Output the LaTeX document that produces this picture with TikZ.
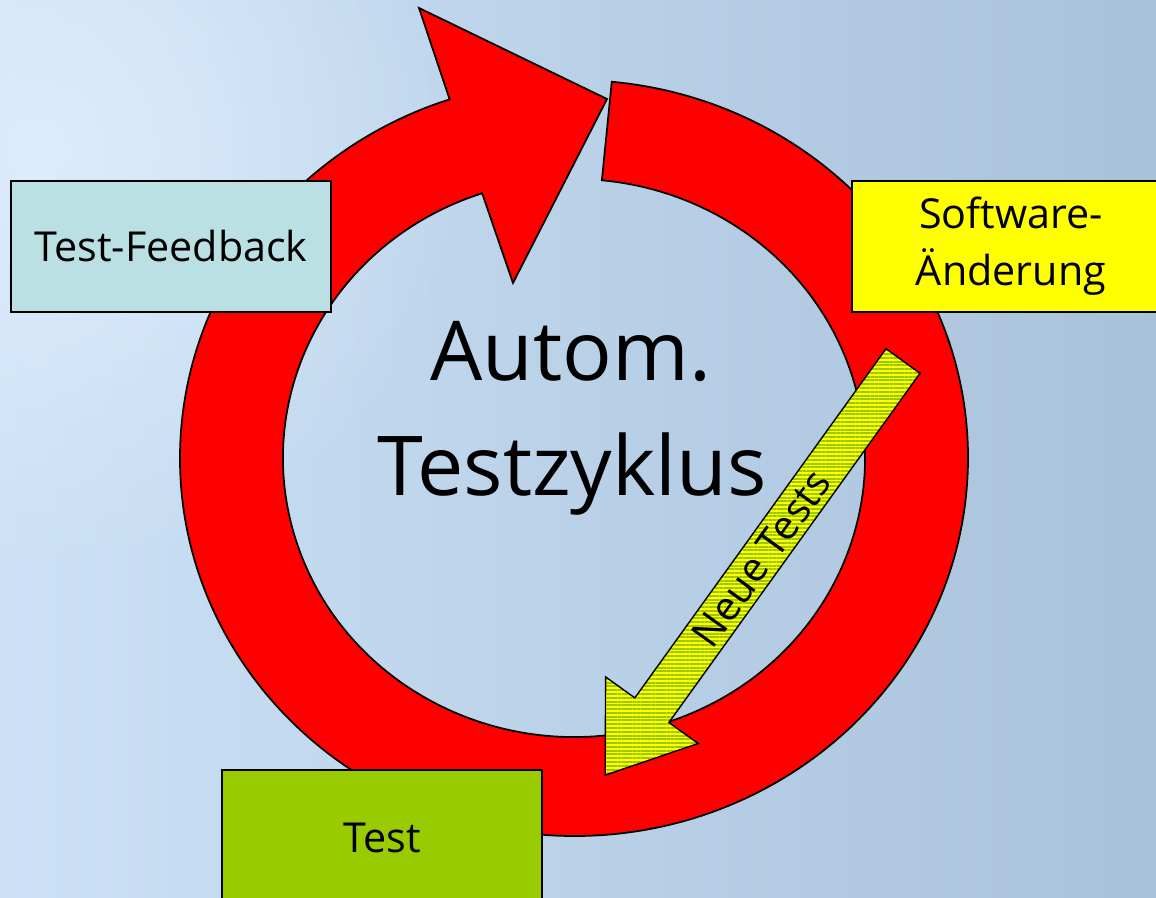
\documentclass[tikz,border=0pt]{standalone}
\usepackage{fontspec}
\setmainfont{Open Sans}
\usetikzlibrary{calc,patterns.meta,fadings}

\definecolor{bgleft}{HTML}{CCE1F6}
\definecolor{bgright}{HTML}{A8C2DA}
\definecolor{bgglow}{HTML}{DDECFC}
\definecolor{ringred}{HTML}{FF0000}
\definecolor{feedbackfill}{HTML}{BBE0E3}
\definecolor{changefill}{HTML}{FFFF00}
\definecolor{testfill}{HTML}{99CC00}
\definecolor{stripegreen}{HTML}{99C800}
\definecolor{stripeyellow}{HTML}{FFFF00}

\tikzfading[name=glowfade, inner color=transparent!0, outer color=transparent!100]

\begin{document}
\begin{tikzpicture}[x=0.02cm, y=0.02cm,
  outline/.style={draw=black, line width=1pt},
  ringshape/.style={outline, fill=ringred, line join=miter},
  stagebox/.style={outline, rectangle, inner sep=0pt, align=center,
    minimum width=6.4cm, minimum height=2.62cm,
    font=\fontsize{23.5}{32.4}\selectfont},
  stripedarrow/.style={draw=black, line width=0.8pt, line join=miter,
    preaction={fill=stripeyellow},
    pattern={Lines[angle=0, distance=2.15pt, line width=1.15pt]},
    pattern color=stripegreen},
  titletext/.style={anchor=base, inner sep=0pt, font=\fontsize{47}{60}\selectfont},
  arrowtext/.style={inner sep=0pt, font=\fontsize{23}{28}\selectfont}]

\useasboundingbox (0,0) rectangle (1156,-898);
\clip (0,0) rectangle (1156,-898);

% background
\shade[left color=bgleft, right color=bgright] (0,0) rectangle (1156,-898);
\fill[bgglow, path fading=glowfade] (40,-150) circle (430);

% red cycle ring with arrow head
\coordinate (C) at (574,-458);
\path[ringshape]
  ($(C)+(84.5:394 and 378)$)
  arc[start angle=84.5, end angle=-251.6, x radius=394, y radius=378]
  -- (419,-8) -- (607,-99) -- (513,-283)
  -- ($(C)+(108.4:291 and 279)$)
  arc[start angle=108.4, end angle=444.5, x radius=291, y radius=279]
  -- cycle;

% title in the middle of the cycle
\node[titletext] (title1) at (571,-380) {Autom.};
\node[titletext] (title2) at (572,-495) {Testzyklus};

% striped arrow "Neue Tests"
\coordinate (nt) at (903,-361);
\coordinate (nh) at (605.2,-775.1);
\path[stripedarrow]
  (886,-348.7) -- (634.8,-697.9) -- (605.6,-676.9) -- (nh)
  -- (698.2,-743.5) -- (668.9,-722.5) -- (920,-373.3) -- cycle;
\node[arrowtext, rotate=54.25] (newtests) at ($(nt)!243/510!(nh)$) {Neue Tests};

% stages of the cycle
\node[stagebox, fill=feedbackfill] (feedback) at (171,-246.5) {Test-Feedback};
\node[stagebox, fill=changefill, minimum width=6.36cm] (change) at (1011,-246.5) {Software-\\Änderung};
\node[stagebox, fill=testfill, minimum height=2.72cm] (test) at (382,-838) {Test};

\end{tikzpicture}
\end{document}
